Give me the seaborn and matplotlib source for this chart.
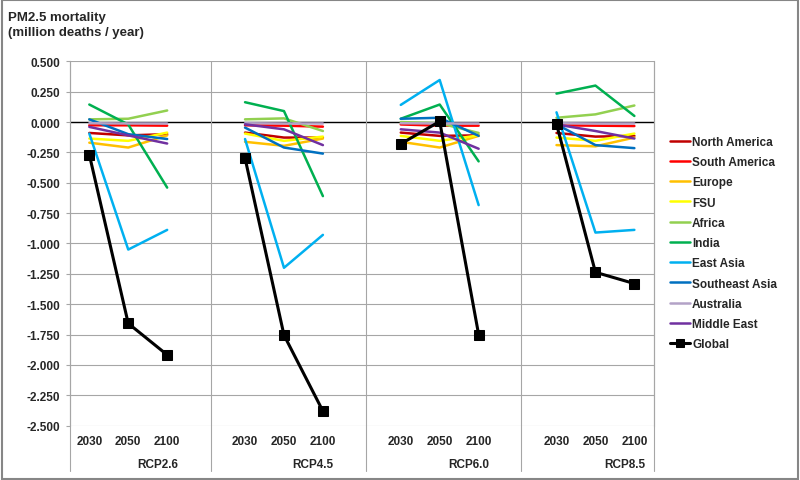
import numpy as np
import pandas as pd
import matplotlib
matplotlib.use("Agg")
import matplotlib.pyplot as plt
import seaborn as sns
from matplotlib.ticker import FormatStrFormatter
from matplotlib.patches import Rectangle

# Chart data: change in PM2.5 mortality (million deaths / year)
scenarios = ["RCP2.6", "RCP4.5", "RCP6.0", "RCP8.5"]
years = ["2030", "2050", "2100"]
regions = ["North America", "South America", "Europe", "FSU", "Africa", "India",
           "East Asia", "Southeast Asia", "Australia", "Middle East"]
region_colors = ["#C00000", "#FF0000", "#FFC000", "#FFFF00", "#92D050", "#00B050",
                 "#00B0F0", "#0070C0", "#B3A2C7", "#7030A0"]

# values per region: RCP2.6 (2030, 2050, 2100), RCP4.5, RCP6.0, RCP8.5
north_america = [-0.090, -0.110, -0.100, -0.087, -0.128, -0.128, -0.087, -0.114, -0.110, -0.090, -0.120, -0.114]
south_america = [-0.027, -0.027, -0.030, -0.027, -0.030, -0.038, -0.020, -0.030, -0.030, -0.027, -0.030, -0.033]
europe = [-0.170, -0.210, -0.110, -0.163, -0.196, -0.136, -0.163, -0.210, -0.114, -0.190, -0.200, -0.128]
fsu = [-0.136, -0.155, -0.087, -0.095, -0.155, -0.120, -0.114, -0.155, -0.110, -0.128, -0.155, -0.095]
africa = [0.022, 0.027, 0.095, 0.022, 0.030, -0.074, 0.000, -0.010, -0.090, 0.035, 0.063, 0.136]
india = [0.144, -0.020, -0.540, 0.163, 0.090, -0.610, 0.027, 0.144, -0.324, 0.234, 0.300, 0.050]
east_asia = [-0.095, -1.050, -0.888, -0.140, -1.200, -0.929, 0.141, 0.346, -0.684, 0.080, -0.910, -0.888]
southeast_asia = [0.022, -0.100, -0.140, -0.046, -0.210, -0.260, 0.027, 0.035, -0.114, -0.019, -0.190, -0.215]
australia = [-0.010, -0.012, -0.012, -0.010, -0.012, -0.012, -0.010, -0.012, -0.012, -0.010, -0.012, -0.012]
middle_east = [-0.040, -0.110, -0.177, -0.019, -0.060, -0.190, -0.060, -0.087, -0.220, -0.020, -0.074, -0.136]
global_total = [-0.268, -1.658, -1.917, -0.297, -1.754, -2.380, -0.180, 0.005, -1.750, -0.016, -1.237, -1.330]

region_values = [north_america, south_america, europe, fsu, africa, india,
                 east_asia, southeast_asia, australia, middle_east]

# long table; each scenario gets 4 category slots (3 years + blank gap)
rows = []
for reg, vals in zip(regions, region_values):
    for i, v in enumerate(vals):
        s, y = divmod(i, 3)
        rows.append({"region": reg, "scenario": scenarios[s], "year": years[y],
                     "pos": s * 4 + y, "value": v})
df = pd.DataFrame(rows)

glob = pd.DataFrame({"scenario": [s for s in scenarios for _ in years],
                     "year": years * 4,
                     "value": global_total})
glob["pos"] = [scenarios.index(s) * 4 + years.index(y) for s, y in zip(glob.scenario, glob.year)]

sns.set_style("white")
plt.rcParams["font.family"] = ["Liberation Sans", "DejaVu Sans"]
plt.rcParams["font.weight"] = "bold"

fig = plt.figure(figsize=(8, 4.81), dpi=100)
ax = fig.add_axes([0.0873, 0.1129, 0.730, 0.7576])

sns.lineplot(data=df, x="pos", y="value", hue="region", hue_order=regions,
             palette=region_colors, units="scenario", estimator=None,
             linewidth=1.8, ax=ax)
sns.lineplot(data=glob, x="pos", y="value", units="scenario", estimator=None,
             color="black", linewidth=2.2, marker="s", markersize=7,
             markeredgecolor="black", label="Global", ax=ax)

ax.axhline(0, color="black", linewidth=1, zorder=1)

ax.set_xlim(-0.5, 14.5)
ax.set_ylim(-2.5, 0.5)
ax.set_yticks(np.linspace(-2.5, 0.5, 13))
ax.yaxis.set_major_formatter(FormatStrFormatter("%.3f"))
ax.grid(axis="y", color="#A6A6A6", linewidth=0.8)
ax.set_axisbelow(True)

tick_pos = [s * 4 + y for s in range(4) for y in range(3)]
ax.set_xticks(tick_pos)
ax.set_xticklabels(years * 4)
ax.tick_params(axis="x", length=0, pad=7, labelsize=8.5)
ax.tick_params(axis="y", length=3, color="#A6A6A6", pad=4, labelsize=8.5, left=True)
ax.set_xlabel("")
ax.set_ylabel("")
for sp in ["top", "bottom"]:
    ax.spines[sp].set_visible(False)
for sp in ["left", "right"]:
    ax.spines[sp].set_color("#A6A6A6")
    ax.spines[sp].set_linewidth(0.8)

# group dividers reaching down through the category labels
trans = ax.get_xaxis_transform()
for xd in [-0.5, 3.12, 7.1, 11.1, 14.5]:
    ax.plot([xd, xd], [1, -0.125], transform=trans, color="#A6A6A6",
            linewidth=0.8, clip_on=False)
for i, s in enumerate(scenarios):
    ax.text(1.75 + 4 * i, -0.105, s, transform=trans, ha="center", va="center",
            fontsize=8.5, fontweight="bold")

# one legend entry per series
handles, labels = ax.get_legend_handles_labels()
seen = {}
for h, l in zip(handles, labels):
    seen.setdefault(l, h)
ax.get_legend().remove()
fig.legend(list(seen.values()), list(seen.keys()), loc="upper left",
           bbox_to_anchor=(0.832, 1 - 132 / 481), frameon=False, handlelength=1.7,
           handletextpad=0.15, labelspacing=0.7, markerscale=0.75,
           prop={"size": 8.5, "weight": "bold"}, borderaxespad=0)

fig.text(8 / 800, 1 - 12 / 481, "PM2.5 mortality\n(million deaths / year)",
         ha="left", va="top", fontsize=9.5, fontweight="bold", linespacing=1.35)

fig.patches.append(Rectangle((0.002, 0.003), 0.996, 0.994, transform=fig.transFigure,
                             fill=False, edgecolor="#868686", linewidth=1.5))

fig.savefig("out.png", dpi=100)
